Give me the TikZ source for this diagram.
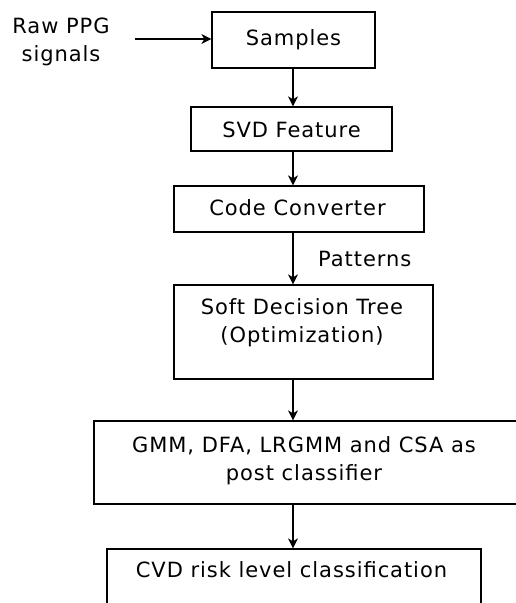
\documentclass[tikz,border=0pt]{standalone}
\usepackage{fontspec}
\setmainfont[LetterSpace=4.5]{DejaVu Sans}
\usetikzlibrary{arrows.meta}
\begin{document}
\begin{tikzpicture}[x=1pt,y=-1pt,
  box/.style={draw=black,line width=1.3pt,inner sep=0pt},
  txt/.style={inner sep=0pt,anchor=base,font=\fontsize{21}{28}\selectfont,text=black},
  arr/.style={draw=black,line width=1.3pt,-{Stealth[length=10pt,width=10pt,inset=3pt]}}]
\useasboundingbox (0,0) rectangle (516,603);
% boxes
\node[box,minimum width=163pt,minimum height=56pt] (samples) at (293.5,40) {};
\node[box,minimum width=201pt,minimum height=44pt] (svd) at (291.5,129) {};
\node[box,minimum width=250pt,minimum height=46pt] (code) at (299,209) {};
\node[box,minimum width=259pt,minimum height=94pt] (soft) at (303.5,332) {};
\node[box,minimum width=426pt,minimum height=83pt] (gmm) at (307,462.5) {};
\node[box,minimum width=374pt,minimum height=80pt] (cvd) at (294,589) {};
% texts
\node[txt] (t1) at (293.5,45) {Samples};
\node[txt] (t2) at (291.5,137) {SVD Feature};
\node[txt] (t3) at (297.5,215) {Code Converter};
\node[txt] (t4a) at (302,314.5) {Soft Decision Tree};
\node[txt] (t4b) at (302,342.5) {(Optimization)};
\node[txt] (t5a) at (304,452.5) {GMM, DFA, LRGMM and CSA as};
\node[txt] (t5b) at (304,480.5) {post classifier};
\node[txt] (t6) at (291.5,577.5) {CVD risk level classification};
\node[txt] (raw1) at (61,33) {Raw PPG};
\node[txt] (raw2) at (61,61) {signals};
\node[txt,anchor=base west] (pat) at (318,266.5) {Patterns};
\coordinate (in) at (135,39);
% arrows
\draw[arr] (in) -- (samples.west |- in);
\draw[arr] (samples.south -| 293,0) -- (svd.north -| 293,0);
\draw[arr] (svd.south -| 293,0) -- (code.north -| 293,0);
\draw[arr] (code.south -| 293,0) -- (soft.north -| 293,0);
\draw[arr] (soft.south -| 293,0) -- (gmm.north -| 293,0);
\draw[arr] (gmm.south -| 293,0) -- (cvd.north -| 293,0);
\end{tikzpicture}
\end{document}
